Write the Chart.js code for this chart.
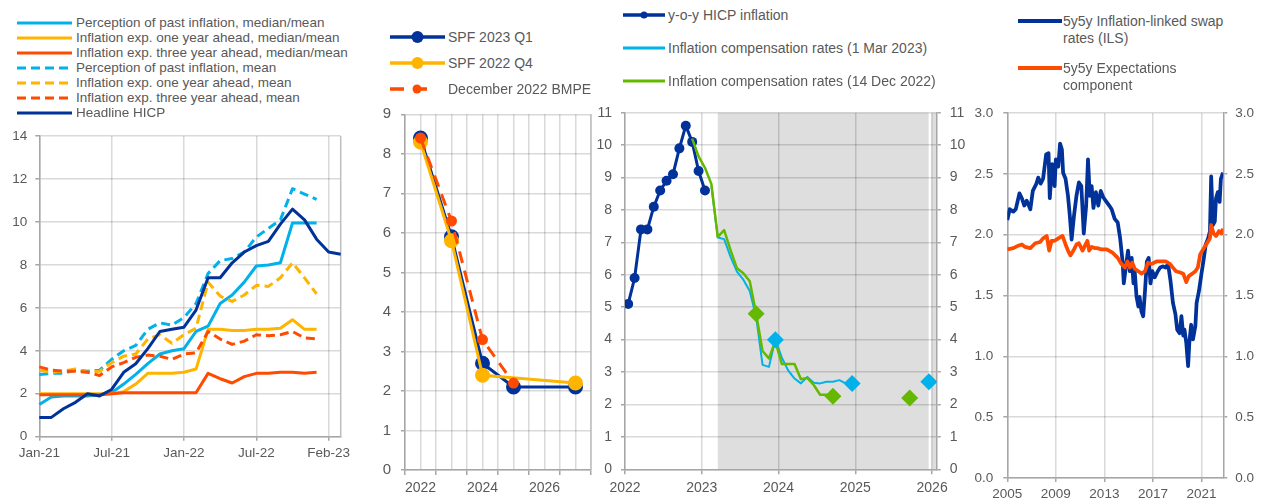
<!DOCTYPE html>
<html>
<head>
<meta charset="utf-8">
<title>Euro area inflation: perceptions, expectations and market compensation</title>
<script src="https://cdn.jsdelivr.net/npm/chart.js@4.4.0/dist/chart.umd.min.js"></script>
<style>
  html, body { margin: 0; padding: 0; background: #fff; }
  #page { position: relative; width: 1265px; height: 501px; overflow: hidden; background: #fff;
          font-family: "Liberation Sans", Arial, sans-serif; color: #595959; }
  canvas { position: absolute; }
  .lg { position: absolute; white-space: nowrap; line-height: 16px; color: #595959; }
  .sw { position: absolute; overflow: visible; }
</style>
</head>
<body>
<div id="page">
  <canvas id="c1" width="350" height="381" style="left:0px;top:120px;width:350px;height:381px"></canvas>
  <canvas id="c2" width="250" height="406" style="left:350px;top:95px;width:250px;height:406px"></canvas>
  <canvas id="c3" width="385" height="406" style="left:585px;top:95px;width:385px;height:406px"></canvas>
  <canvas id="c4" width="300" height="406" style="left:965px;top:95px;width:300px;height:406px"></canvas>
</div>
<script>
// ---------- Panel 1: consumer perceptions and expectations (monthly) ----------
const months = ['Jan-21','Feb-21','Mar-21','Apr-21','May-21','Jun-21','Jul-21','Aug-21','Sep-21','Oct-21','Nov-21','Dec-21',
                'Jan-22','Feb-22','Mar-22','Apr-22','May-22','Jun-22','Jul-22','Aug-22','Sep-22','Oct-22','Nov-22','Dec-22',
                'Jan-23','Feb-23'];
const monthTickLabels = ['Jan-21', 'Jul-21', 'Jan-22', 'Jul-22', 'Feb-23'];
const pastPerceptionMedian = [1.5,1.85,1.9,1.9,1.9,1.95,2.05,2.45,2.9,3.4,3.85,4.0,4.1,4.9,5.15,6.2,6.6,7.2,7.95,8.0,8.1,9.95,9.95,9.95,null,null];
const oneYearMedian        = [2.0,2.0,2.0,2.0,2.0,2.0,2.0,2.1,2.45,2.95,2.95,2.95,3.0,3.15,5.0,5.0,4.95,4.95,5.0,5.0,5.05,5.45,5.0,5.0,null,null];
const threeYearMedian      = [1.95,1.95,1.95,1.95,1.95,1.95,2.0,2.05,2.05,2.05,2.05,2.05,2.05,2.05,2.95,2.7,2.5,2.8,2.95,2.95,3.0,3.0,2.95,3.0,null,null];
const pastPerceptionMean   = [2.9,2.95,2.95,3.1,3.05,3.1,3.6,4.0,4.25,5.0,5.3,5.2,5.55,6.2,7.6,8.2,8.3,8.6,9.3,9.7,10.1,11.55,11.3,11.05,null,null];
const oneYearMean          = [3.1,3.0,3.05,3.15,3.0,3.05,3.45,3.75,3.85,4.55,4.75,4.35,4.75,5.05,7.2,6.55,6.3,6.6,7.05,7.0,7.4,8.1,7.4,6.65,null,null];
const threeYearMean        = [3.25,3.1,3.05,3.05,3.0,2.85,3.25,3.45,3.7,3.8,3.75,3.6,3.85,3.9,4.9,4.55,4.3,4.45,4.75,4.7,4.75,4.9,4.6,4.55,null,null];
const headlineHicp         = [0.9,0.9,1.3,1.6,2.0,1.9,2.2,3.0,3.4,4.1,4.9,5.0,5.1,5.9,7.4,7.4,8.1,8.6,8.9,9.1,9.9,10.6,10.1,9.2,8.6,8.5];

// ---------- Panel 2: SPF rounds and December 2022 projections (annual) ----------
const spfYears        = [2022, 2023, 2024, 2025, 2027];
const spf2023Q1       = [8.4, 5.9, 2.7, 2.1, 2.1];
const spf2022Q4       = [8.3, 5.8, 2.4, null, 2.2];
const bmpeDec2022     = [8.4, 6.3, 3.3, 2.2, null];
const spfTickLabels   = ['2022', '2024', '2026'];

// ---------- Panel 3: HICP and inflation compensation fixings (monthly) ----------
const hicpMonths      = ['2022-01','2022-02','2022-03','2022-04','2022-05','2022-06','2022-07','2022-08','2022-09','2022-10','2022-11','2022-12','2023-01'];
const hicpYoY         = [5.1,5.9,7.4,7.4,8.1,8.6,8.9,9.1,9.9,10.6,10.1,9.2,8.6];
const compMar23Months = ['2023-02','2023-03','2023-04','2023-05','2023-06','2023-07','2023-08','2023-09','2023-10','2023-11','2023-12',
                         '2024-01','2024-02','2024-03','2024-04','2024-05','2024-06','2024-07','2024-08','2024-09','2024-10','2024-11','2024-12'];
const compMar23       = [8.75,7.15,7.1,6.55,6.1,5.85,5.5,4.7,3.22,3.16,4.0,3.45,3.05,2.8,2.65,2.85,2.67,2.65,2.7,2.7,2.75,2.65,2.6];
const compDec22Months = ['2022-11','2022-12','2023-01','2023-02','2023-03','2023-04','2023-05','2023-06','2023-07','2023-08','2023-09',
                         '2023-10','2023-11','2023-12','2024-01','2024-02','2024-03','2024-04','2024-05','2024-06','2024-07','2024-08','2024-09'];
const compDec22       = [10.2,9.65,9.3,8.8,7.17,7.38,6.76,6.2,6.05,5.8,4.8,3.65,3.42,3.95,3.25,3.25,3.25,2.78,2.82,2.6,2.3,2.3,2.25];
const compMar23AvgMonths = ['2023-12','2024-12','2025-12'];
const compMar23Avg       = [4.0, 2.65, 2.7];
const compDec22AvgMonths = ['2023-09','2024-09','2025-09'];
const compDec22Avg       = [4.8, 2.25, 2.2];
const compYearTicks      = [2022, 2023, 2024, 2025, 2026];

// ---------- Panel 4: long-term market-based measures ----------
const ilsDates = [2005.0,2005.2,2005.5,2005.7,2006.0,2006.2,2006.4,2006.6,2006.9,2007.1,2007.4,2007.55,2007.75,2007.95,
  2008.2,2008.4,2008.5,2008.7,2008.9,2009.0,2009.2,2009.35,2009.5,2009.6,2009.8,2010.0,2010.15,2010.3,2010.5,2010.7,2010.9,
  2011.1,2011.3,2011.5,2011.65,2011.8,2011.95,2012.1,2012.3,2012.5,2012.7,2012.9,2013.1,2013.4,2013.6,2013.85,2014.1,2014.3,
  2014.5,2014.6,2014.8,2014.95,2015.1,2015.25,2015.4,2015.5,2015.65,2015.8,2015.9,2016.05,2016.2,2016.35,2016.5,2016.65,2016.8,
  2016.95,2017.15,2017.4,2017.6,2017.85,2018.05,2018.25,2018.45,2018.65,2018.85,2019.0,2019.2,2019.35,2019.5,2019.6,2019.75,
  2019.9,2020.0,2020.15,2020.3,2020.5,2020.6,2020.8,2021.0,2021.2,2021.35,2021.55,2021.7,2021.8,2021.95,2022.1,2022.2,2022.35,
  2022.5,2022.6,2022.78];
const ilsValues = [2.12,2.21,2.19,2.21,2.34,2.30,2.24,2.28,2.21,2.36,2.42,2.47,2.42,2.46,
  2.66,2.67,2.30,2.58,2.40,2.62,2.56,2.75,2.70,2.51,2.46,2.32,2.16,1.96,2.16,2.32,2.43,
  2.40,2.01,2.24,2.62,2.32,2.40,2.22,2.35,2.24,2.36,2.31,2.28,2.24,2.21,2.13,2.10,1.97,
  1.78,1.60,1.76,1.87,1.70,1.81,1.60,1.70,1.49,1.41,1.49,1.37,1.33,1.54,1.78,1.81,1.60,
  1.70,1.65,1.70,1.73,1.74,1.73,1.76,1.62,1.44,1.35,1.22,1.19,1.33,1.17,1.22,1.11,
  0.92,1.11,1.26,1.14,1.25,1.44,1.54,1.68,1.81,1.92,1.97,2.03,2.48,2.08,2.11,2.30,2.35,
  2.27,2.46,2.51];
const expDates = [2005.0,2005.5,2005.9,2006.2,2006.45,2006.9,2007.3,2007.7,2007.95,2008.25,2008.45,2008.65,2008.9,2009.2,
  2009.55,2009.8,2010.0,2010.2,2010.45,2010.7,2010.9,2011.2,2011.4,2011.6,2011.75,2011.95,2012.2,2012.4,2012.75,2013.2,
  2013.7,2014.1,2014.4,2014.7,2014.9,2015.1,2015.3,2015.5,2015.8,2016.05,2016.35,2016.6,2016.9,2017.3,2017.7,2018.05,
  2018.4,2018.65,2018.9,2019.25,2019.5,2019.75,2019.95,2020.25,2020.5,2020.7,2020.9,2021.2,2021.45,2021.7,2021.8,2022.0,
  2022.2,2022.45,2022.65,2022.78];
const expValues = [1.88,1.89,1.91,1.92,1.90,1.89,1.93,1.94,1.97,1.99,1.87,1.95,1.95,1.97,
  1.99,1.92,1.87,1.83,1.87,1.92,1.93,1.87,1.91,1.95,1.87,1.90,1.89,1.89,1.88,1.88,
  1.85,1.81,1.76,1.73,1.78,1.73,1.77,1.72,1.70,1.68,1.70,1.77,1.76,1.78,1.78,1.78,
  1.76,1.73,1.70,1.69,1.68,1.61,1.66,1.68,1.70,1.73,1.84,1.89,1.93,1.97,2.08,2.01,
  1.99,2.03,2.01,2.05];
const longTermYearTicks = [2005, 2009, 2013, 2017, 2021];

// ---------- Styling ----------
const NAVY = '#003299', LIGHT_BLUE = '#00B1EA', YELLOW = '#FFB400', ORANGE = '#FF4B00', GREEN = '#65B800';
const GRID = 'rgba(0,0,0,0.15)';
const AXIS = '#a6a6a6';
const NONE = 'rgba(0,0,0,0)';
const FONT = '"Liberation Sans", Arial, sans-serif';

Chart.defaults.font.family = FONT;
Chart.defaults.color = '#595959';
Chart.defaults.animation = false;
Chart.defaults.responsive = false;
Chart.defaults.plugins.legend.display = false;
Chart.defaults.plugins.tooltip.enabled = false;

const monthPos = m => { const [y, mo] = m.split('-').map(Number); return y + (mo - 0.5) / 12; };
const pairs = (xs, ys) => xs.map((x, i) => ({ x, y: ys[i] })).filter(p => p.y !== null);

function series(label, data, color, extra) {
  return Object.assign({
    label, data, borderColor: color, backgroundColor: color, borderWidth: 3,
    pointRadius: 0, tension: 0, borderJoinStyle: 'round', spanGaps: true
  }, extra || {});
}

function valueAxis(opts) {
  return Object.assign({
    min: opts.min, max: opts.max,
    ticks: { stepSize: opts.step, maxTicksLimit: 30, padding: opts.pad, font: { size: opts.size },
             callback: opts.fmt || (v => String(v)) },
    grid: { color: GRID, lineWidth: 1.5, tickLength: 4, tickColor: AXIS, drawOnChartArea: opts.onArea !== false },
    border: { color: AXIS, width: 1.5 },
    afterFit: s => { s.width = opts.width; }
  }, opts.position ? { position: opts.position } : {});
}

// Right-hand frame line for panels without a right axis
const rightFrame = {
  id: 'rightFrame',
  beforeDatasetsDraw(chart) {
    const a = chart.chartArea, ctx = chart.ctx;
    ctx.save();
    ctx.strokeStyle = '#bfbfbf';
    ctx.lineWidth = 1.5;
    ctx.beginPath();
    ctx.moveTo(a.right, a.top);
    ctx.lineTo(a.right, a.bottom);
    ctx.stroke();
    ctx.restore();
  }
};

// Grey band marking the forward-looking part of the compensation curves
const shadeStart = monthPos('2023-03');
const shadeBreak = [2025.955, 2025.995];
const forwardShade = {
  id: 'forwardShade',
  beforeDraw(chart) {
    const x = chart.scales.x, a = chart.chartArea, ctx = chart.ctx;
    const x0 = x.getPixelForValue(shadeStart);
    const b0 = x.getPixelForValue(shadeBreak[0]), b1 = x.getPixelForValue(shadeBreak[1]);
    ctx.save();
    ctx.fillStyle = '#dedede';
    ctx.fillRect(x0, a.top, b0 - x0, a.bottom - a.top);
    ctx.fillRect(b1, a.top, a.right - b1, a.bottom - a.top);
    ctx.restore();
  }
};

// ---------- Panel 1 ----------
new Chart(document.getElementById('c1'), {
  type: 'line',
  data: {
    labels: months,
    datasets: [
      series('Headline HICP', headlineHicp, NAVY, { order: 0 }),
      series('Inflation exp. three year ahead, mean', threeYearMean, ORANGE, { borderDash: [9, 5], order: 1 }),
      series('Inflation exp. one year ahead, mean', oneYearMean, YELLOW, { borderDash: [9, 5], order: 2 }),
      series('Perception of past inflation, mean', pastPerceptionMean, LIGHT_BLUE, { borderDash: [9, 5], order: 3 }),
      series('Inflation exp. three year ahead, median/mean', threeYearMedian, ORANGE, { order: 4 }),
      series('Inflation exp. one year ahead, median/mean', oneYearMedian, YELLOW, { order: 5 }),
      series('Perception of past inflation, median/mean', pastPerceptionMedian, LIGHT_BLUE, { order: 6 })
    ]
  },
  options: {
    layout: { padding: { top: 13.3, right: 9.3, left: 0, bottom: 0 } },
    scales: {
      x: {
        type: 'category', offset: false,
        ticks: { autoSkip: false, maxRotation: 0, padding: 4, font: { size: 13.5 },
                 callback: (v, i) => (i % 6 === 0 ? monthTickLabels[i / 6] : '') },
        grid: { color: c => (c.index % 6 === 0 ? GRID : NONE), lineWidth: 1.5, tickLength: 4,
                tickColor: c => (c.index % 6 === 0 ? AXIS : NONE) },
        border: { color: AXIS, width: 1.5 },
        afterFit: s => { s.height = 64.3; }
      },
      y: valueAxis({ min: 0, max: 14, step: 2, pad: 8, size: 13.5, width: 39.3 })
    }
  },
  plugins: [rightFrame]
});

// ---------- Panel 2 ----------
new Chart(document.getElementById('c2'), {
  type: 'line',
  data: {
    datasets: [
      series('December 2022 BMPE', pairs(spfYears, bmpeDec2022), ORANGE,
             { borderDash: [12, 8], pointRadius: 4, order: 0 }),
      series('SPF 2022 Q4', pairs(spfYears, spf2022Q4), YELLOW, { pointRadius: 6, order: 1 }),
      series('SPF 2023 Q1', pairs(spfYears, spf2023Q1), NAVY, { pointRadius: 6, order: 2 })
    ]
  },
  options: {
    layout: { padding: { top: 19.3, right: 7.3, left: 0, bottom: 0 } },
    scales: {
      x: {
        type: 'linear', min: 2021.5, max: 2027.5,
        afterBuildTicks: s => {
          const t = [];
          for (let k = 0; k <= 12; k++) t.push({ value: 2021.5 + k * 0.5 });
          s.ticks = t;
        },
        ticks: { autoSkip: false, maxRotation: 0, padding: 5, font: { size: 14 },
                 callback: v => (spfTickLabels.includes(String(v)) ? String(v) : '') },
        grid: { color: GRID, lineWidth: 1.5, tickLength: 5,
                tickColor: c => (c.tick && c.tick.value % 1 !== 0 ? AXIS : NONE) },
        border: { color: AXIS, width: 1.5 },
        afterFit: s => { s.height = 31; }
      },
      y: valueAxis({ min: 0, max: 9, step: 1, pad: 10, size: 15, width: 55 })
    }
  },
  plugins: [rightFrame]
});

// ---------- Panel 3 ----------
new Chart(document.getElementById('c3'), {
  type: 'line',
  data: {
    datasets: [
      series('Inflation compensation rates (1 Mar 2023), annual', pairs(compMar23AvgMonths.map(monthPos), compMar23Avg), LIGHT_BLUE,
             { showLine: false, pointStyle: 'rectRot', pointRadius: 8.5, pointBorderWidth: 0, order: 0 }),
      series('Inflation compensation rates (14 Dec 2022), annual', pairs(compDec22AvgMonths.map(monthPos), compDec22Avg), GREEN,
             { showLine: false, pointStyle: 'rectRot', pointRadius: 8.5, pointBorderWidth: 0, order: 1 }),
      series('Inflation compensation rates (14 Dec 2022)', pairs(compDec22Months.map(monthPos), compDec22), GREEN,
             { borderWidth: 2.5, order: 2 }),
      series('Inflation compensation rates (1 Mar 2023)', pairs(compMar23Months.map(monthPos), compMar23), LIGHT_BLUE,
             { borderWidth: 2, order: 3 }),
      series('y-o-y HICP inflation', pairs(hicpMonths.map(monthPos), hicpYoY), NAVY,
             { pointRadius: 5, pointBorderWidth: 0, order: 4 })
    ]
  },
  options: {
    layout: { padding: { top: 17.7, right: 0, left: 0, bottom: 0 } },
    scales: {
      x: {
        type: 'linear', min: 2022, max: 2026.06,
        afterBuildTicks: s => { s.ticks = compYearTicks.map(v => ({ value: v })); },
        ticks: { autoSkip: false, maxRotation: 0, padding: 5, font: { size: 14 }, callback: v => String(v) },
        grid: { color: GRID, lineWidth: 1.5, tickLength: 5, tickColor: AXIS },
        border: { color: AXIS, width: 1.5 },
        afterFit: s => { s.height = 31.7; }
      },
      y: valueAxis({ min: 0, max: 11, step: 1, pad: 9, size: 14, width: 40 }),
      y2: valueAxis({ min: 0, max: 11, step: 1, pad: 9, size: 14, width: 33.3, position: 'right', onArea: false })
    }
  },
  plugins: [forwardShade]
});

// ---------- Panel 4 ----------
new Chart(document.getElementById('c4'), {
  type: 'line',
  data: {
    datasets: [
      series('5y5y Expectations component', pairs(expDates, expValues), ORANGE, { borderWidth: 3.75, order: 0 }),
      series('5y5y Inflation-linked swap rates (ILS)', pairs(ilsDates, ilsValues), NAVY, { borderWidth: 3.75, order: 1 })
    ]
  },
  options: {
    layout: { padding: { top: 11, right: 0, left: 0, bottom: 0 } },
    scales: {
      x: {
        type: 'linear', min: 2005, max: 2022.8,
        afterBuildTicks: s => { s.ticks = longTermYearTicks.map(v => ({ value: v })); },
        ticks: { autoSkip: false, maxRotation: 0, padding: 4, font: { size: 13.5 }, callback: v => String(v) },
        grid: { color: GRID, lineWidth: 1.5, tickLength: 4, tickColor: AXIS },
        border: { color: AXIS, width: 1.5 },
        afterFit: s => { s.height = 23; }
      },
      y: valueAxis({ min: 0, max: 3, step: 0.5, pad: 10, size: 13.5, width: 42.3, fmt: v => v.toFixed(1) }),
      y2: valueAxis({ min: 0, max: 3, step: 0.5, pad: 8, size: 13.5, width: 41.7, position: 'right', onArea: false,
                      fmt: v => v.toFixed(1) })
    }
  }
});

// ---------- Legends ----------
const page = document.getElementById('page');
const SVG_NS = 'http://www.w3.org/2000/svg';
function legendItem(o) {
  const pad = 10;
  const svg = document.createElementNS(SVG_NS, 'svg');
  svg.setAttribute('class', 'sw');
  svg.setAttribute('width', o.x2 - o.x1 + 2 * pad);
  svg.setAttribute('height', 2 * pad);
  svg.style.left = (o.x1 - pad) + 'px';
  svg.style.top = (o.y - pad) + 'px';
  const ln = document.createElementNS(SVG_NS, 'line');
  ln.setAttribute('x1', pad);
  ln.setAttribute('x2', pad + o.x2 - o.x1);
  ln.setAttribute('y1', pad);
  ln.setAttribute('y2', pad);
  ln.setAttribute('stroke', o.color);
  ln.setAttribute('stroke-width', o.width);
  if (o.dash) ln.setAttribute('stroke-dasharray', o.dash.join(' '));
  svg.appendChild(ln);
  if (o.markerR) {
    const c = document.createElementNS(SVG_NS, 'circle');
    c.setAttribute('cx', pad + (o.markerX !== undefined ? o.markerX : (o.x2 - o.x1) / 2));
    c.setAttribute('cy', pad);
    c.setAttribute('r', o.markerR);
    c.setAttribute('fill', o.color);
    svg.appendChild(c);
  }
  page.appendChild(svg);
  o.lines.forEach((t, k) => {
    const d = document.createElement('div');
    d.className = 'lg';
    d.textContent = t;
    d.style.left = o.textX + 'px';
    d.style.top = (o.y - 8 + k * (o.lineGap || 16)) + 'px';
    d.style.fontSize = o.size + 'px';
    page.appendChild(d);
  });
}

// Panel 1 legend
[
  ['Perception of past inflation, median/mean', LIGHT_BLUE, null],
  ['Inflation exp. one year ahead, median/mean', YELLOW, null],
  ['Inflation exp. three year ahead, median/mean', ORANGE, null],
  ['Perception of past inflation, mean', LIGHT_BLUE, [9, 5]],
  ['Inflation exp. one year ahead, mean', YELLOW, [9, 5]],
  ['Inflation exp. three year ahead, mean', ORANGE, [9, 5]],
  ['Headline HICP', NAVY, null]
].forEach((e, k) => legendItem({ x1: 17, x2: 72, y: 22.5 + k * 15.1, color: e[1], width: 3, dash: e[2],
                                  textX: 76, lines: [e[0]], size: 13.5 }));

// Panel 2 legend
legendItem({ x1: 390, x2: 445, y: 37, color: NAVY, width: 3.5, markerR: 6, textX: 448, lines: ['SPF 2023 Q1'], size: 14 });
legendItem({ x1: 390, x2: 445, y: 63, color: YELLOW, width: 3.5, markerR: 6, textX: 448, lines: ['SPF 2022 Q4'], size: 14 });
legendItem({ x1: 390, x2: 436, y: 89, color: ORANGE, width: 3.5, dash: [14, 9], markerR: 4.5, markerX: 27,
             textX: 448, lines: ['December 2022 BMPE'], size: 14 });

// Panel 3 legend
legendItem({ x1: 623, x2: 665, y: 15, color: NAVY, width: 3.5, markerR: 3.5, textX: 668, lines: ['y-o-y HICP inflation'], size: 14 });
legendItem({ x1: 623, x2: 665, y: 48, color: LIGHT_BLUE, width: 3, textX: 668, lines: ['Inflation compensation rates (1 Mar 2023)'], size: 14 });
legendItem({ x1: 623, x2: 665, y: 81, color: GREEN, width: 3, textX: 668, lines: ['Inflation compensation rates (14 Dec 2022)'], size: 14 });

// Panel 4 legend
legendItem({ x1: 1018, x2: 1062, y: 21, color: NAVY, width: 4, textX: 1063,
             lines: ['5y5y Inflation-linked swap', 'rates (ILS)'], lineGap: 16.5, size: 14 });
legendItem({ x1: 1018, x2: 1062, y: 68, color: ORANGE, width: 4, textX: 1063,
             lines: ['5y5y Expectations', 'component'], lineGap: 16.5, size: 14 });
</script>
</body>
</html>
